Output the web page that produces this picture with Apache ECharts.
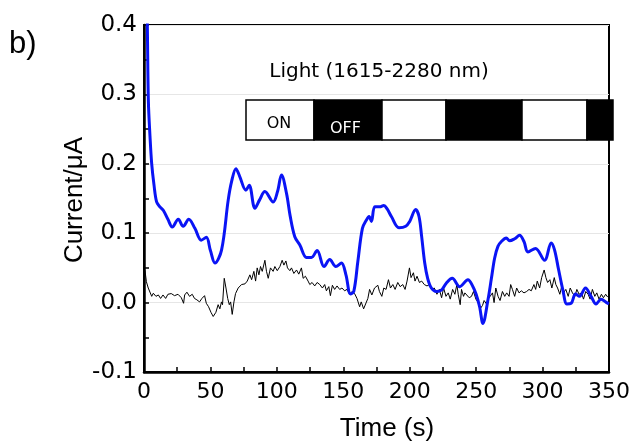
<!DOCTYPE html>
<html>
<head>
<meta charset="utf-8">
<script src="https://cdn.jsdelivr.net/npm/echarts@6/dist/echarts.min.js"></script>
<style>html,body{margin:0;padding:0;background:#fff}#c{width:636px;height:447px}</style>
</head>
<body>
<div id="c"></div>
<script>
// ---- data ----
const xTicks = [0, 50, 100, 150, 200, 250, 300, 350];
const yTicks = [-0.1, 0.0, 0.1, 0.2, 0.3, 0.4];

// Blue (illuminated) current trace
const blueT = [1.5, 2.5, 3.3, 4.5, 5.8, 7.5, 9.5, 12, 14.5, 18, 21.3, 25.8, 29.5, 33.7, 38.3, 43.1, 46.9, 50, 53.4, 58.4, 63.4, 66, 69.2, 72, 76.7, 79.2, 83.5, 87, 91, 97.2, 100.5, 103.5, 107.3, 110, 113.5, 117.3, 122.3, 126, 130.3, 135.5, 139.8, 144.4, 148.6, 152, 155.4, 157.9, 161, 164.4, 167.4, 169.4, 171.2, 173.7, 177.4, 180.5, 183, 186.2, 191.9, 197, 200, 204.5, 207, 209, 211.3, 213.5, 216.3, 220, 223.8, 227.5, 232, 237.6, 243.8, 247.6, 250, 252.6, 255.1, 258.9, 261.5, 263.9, 266.4, 269, 272.7, 275.2, 279, 282.7, 286, 289, 294.7, 301.5, 306.5, 309, 312, 315.3, 318.3, 321.5, 324.8, 327.8, 332.3, 336.5, 340.3, 344, 348.2, 350];
const blueV = [0.50, 0.40, 0.29, 0.24, 0.20, 0.17, 0.145, 0.138, 0.133, 0.12, 0.109, 0.12, 0.110, 0.12, 0.107, 0.09, 0.094, 0.075, 0.057, 0.076, 0.148, 0.175, 0.193, 0.182, 0.162, 0.169, 0.136, 0.148, 0.160, 0.145, 0.160, 0.184, 0.157, 0.125, 0.095, 0.083, 0.065, 0.065, 0.075, 0.052, 0.062, 0.052, 0.057, 0.040, 0.0125, 0.016, 0.060, 0.107, 0.119, 0.124, 0.117, 0.138, 0.138, 0.140, 0.135, 0.124, 0.108, 0.110, 0.117, 0.134, 0.124, 0.095, 0.057, 0.035, 0.021, 0.016, 0.018, 0.028, 0.035, 0.023, 0.033, 0.023, 0.012, -0.006, -0.030, 0.004, 0.035, 0.064, 0.081, 0.088, 0.093, 0.089, 0.092, 0.097, 0.088, 0.073, 0.078, 0.061, 0.086, 0.076, 0.048, 0.018, -0.002, -0.001, 0.0125, 0.009, 0.021, 0.009, -0.002, 0.005, 0.0, -0.002];

// Black (dark) current trace
const blackT = [0, 0.75, 1.8, 3.2, 5.8, 7, 9, 10.8, 12.5, 14.3, 16.3, 18, 20.5, 23, 25.6, 28.1, 29.8, 30.6, 32.3, 34.3, 36.3, 38, 39.8, 41.8, 43.6, 45.6, 46.9, 48.6, 50.4, 52.1, 54.1, 55.8, 57.1, 58.3, 59.1, 60.4, 61.7, 63, 64.2, 65.2, 66.4, 67.7, 68.9, 70.9, 73.4, 76, 77.7, 79.7, 81, 82.7, 84, 85.2, 86.5, 87.7, 89, 91, 92.2, 93.5, 95.2, 97.2, 98.5, 100.3, 102.3, 104, 105.3, 106.8, 108, 109.8, 111, 112.8, 114.8, 116.5, 118.5, 119.8, 121.5, 123.5, 124.8, 126.5, 128.5, 130.3, 132.3, 134.3, 136, 137.3, 139.1, 140.3, 141.8, 143.5, 145.3, 147.3, 149, 151, 152.8, 154.8, 156.5, 158.5, 160.3, 162.3, 163.5, 165.3, 166.8, 168.5, 169.8, 171.5, 173.5, 176, 177.2, 179, 180.5, 182.2, 184, 185.5, 187.3, 189, 191, 192.8, 194.8, 196.5, 198, 199.8, 201, 202.8, 204, 205.5, 207.3, 209, 211, 213, 214.8, 216.5, 218.5, 220.5, 222.3, 224, 225.5, 227.3, 229, 230.5, 232.3, 234, 235.5, 236.5, 238, 239, 240.5, 241.5, 243, 244.8, 246.5, 248, 249.8, 251.5, 253, 254.8, 256, 257.8, 259, 260.5, 262.3, 263.5, 264.8, 266.5, 268, 269.8, 271.5, 273, 274.8, 276, 277.3, 279, 280.5, 282.3, 284, 286, 288, 289.8, 291.5, 293.5, 294.8, 296, 297.8, 299.3, 301.2, 302.5, 303.8, 305.5, 307, 308.8, 310, 311.3, 313, 314.5, 315.8, 317.5, 319.3, 320.8, 322.5, 324.3, 325.8, 327.5, 329.3, 330.8, 332.5, 334.3, 335.8, 337.5, 339.3, 340.8, 342.5, 344.3, 345.8, 347.5, 349];
const blackV = [0.050, 0.046, 0.030, 0.021, 0.009, 0.0135, 0.009, 0.011, 0.006, 0.011, 0.006, 0.012, 0.013, 0.010, 0.012, 0.007, -0.001, 0.011, 0.015, 0.009, 0.012, 0.006, 0.004, 0.001, 0.006, 0.010, -0.001, -0.006, -0.014, -0.020, -0.014, -0.003, -0.009, 0.001, -0.003, 0.035, 0.021, 0.006, -0.003, 0.001, -0.017, 0.001, 0.013, 0.021, 0.026, 0.027, 0.031, 0.040, 0.033, 0.045, 0.031, 0.050, 0.040, 0.052, 0.045, 0.061, 0.045, 0.035, 0.050, 0.045, 0.052, 0.046, 0.052, 0.061, 0.054, 0.060, 0.050, 0.046, 0.050, 0.042, 0.047, 0.041, 0.050, 0.035, 0.038, 0.031, 0.026, 0.029, 0.024, 0.029, 0.026, 0.021, 0.026, 0.017, 0.023, 0.010, 0.025, 0.019, 0.024, 0.019, 0.021, 0.017, 0.019, 0.012, 0.016, 0.013, 0.006, -0.006, 0.001, -0.009, -0.011, 0.006, 0.019, 0.011, 0.021, 0.025, 0.016, 0.009, 0.021, 0.019, 0.033, 0.021, 0.026, 0.019, 0.029, 0.023, 0.026, 0.019, 0.031, 0.050, 0.036, 0.043, 0.031, 0.038, 0.029, 0.031, 0.026, 0.024, 0.026, 0.019, 0.021, 0.012, 0.019, 0.007, 0.021, 0.009, 0.014, 0.005, 0.019, 0.012, 0.026, 0.012, -0.003, 0.019, 0.009, 0.014, 0.016, 0.007, 0.009, 0.016, 0.005, 0.0, -0.009, -0.004, 0.003, -0.002, 0.005, 0.009, 0.014, 0.0, 0.021, 0.009, 0.003, 0.016, 0.009, 0.014, 0.009, 0.026, 0.019, 0.009, 0.021, 0.014, 0.017, 0.014, 0.016, 0.019, 0.017, 0.026, 0.019, 0.031, 0.021, 0.036, 0.047, 0.036, 0.029, 0.033, 0.021, 0.036, 0.026, 0.021, 0.012, 0.024, 0.014, 0.019, 0.009, 0.021, 0.014, 0.009, 0.019, 0.012, 0.014, 0.005, 0.016, 0.012, 0.005, 0.019, 0.009, 0.014, 0.005, 0.012, 0.007, 0.012, 0.008];

const xTitle = 'Time (s)';
const yTitle = 'Current/μA';
const insetTitle = 'Light (1615-2280 nm)';
const onLabel = 'ON';
const offLabel = 'OFF';
const panelLabel = 'b)';

// ---- chart ----
const zip = (t, v) => t.map((x, i) => [x, v[i]]);
const chart = echarts.init(document.getElementById('c'), null, {renderer: 'canvas'});
const FONT = 'Liberation Sans, Arial, sans-serif';
const WIDE = 'DejaVu Sans, sans-serif';

// inset bar segments (pixel layout of the schematic)
const segs = [[246, 314, '#fff'], [314, 382, '#000'], [382, 446, '#fff'], [446, 522, '#000'], [522, 587, '#fff'], [587, 613, '#000']];
const graphics = segs.map(s => ({
  type: 'rect', z: 10,
  shape: {x: s[0], y: 100, width: s[1] - s[0], height: 40},
  style: {fill: s[2], stroke: '#000', lineWidth: 1.5}
}));
graphics.push({type: 'text', z: 11, left: 9, top: 29, style: {text: panelLabel, font: '31px ' + FONT, fill: '#000'}});
graphics.push({type: 'text', z: 11, x: 379, y: 72, style: {text: insetTitle, font: '20px ' + WIDE, fill: '#000', align: 'center', verticalAlign: 'middle'}});
graphics.push({type: 'text', z: 11, x: 279, y: 124, style: {text: onLabel, font: '16px ' + WIDE, fill: '#000', align: 'center', verticalAlign: 'middle'}});
graphics.push({type: 'text', z: 11, x: 345.5, y: 129, style: {text: offLabel, font: '16px ' + WIDE, fill: '#fff', align: 'center', verticalAlign: 'middle'}});
graphics.push({type: 'text', z: 11, x: 387, y: 429, style: {text: xTitle, font: '26px ' + FONT, fill: '#000', align: 'center', verticalAlign: 'middle'}});
graphics.push({type: 'text', z: 11, x: 75, y: 200, rotation: Math.PI / 2, style: {text: yTitle, font: '26px ' + FONT, fill: '#000', align: 'center', verticalAlign: 'middle'}});

chart.setOption({
  animation: false,
  backgroundColor: '#fff',
  grid: {left: 144, top: 25, width: 465, height: 347, show: true, borderColor: '#000', borderWidth: 2, backgroundColor: 'transparent'},
  xAxis: {
    type: 'value', min: xTicks[0], max: xTicks[xTicks.length - 1], interval: 50,
    axisLine: {onZero: false, lineStyle: {color: '#000', width: 2.5}},
    axisTick: {inside: true, length: 5, lineStyle: {color: '#000', width: 1.5}},
    minorTick: {show: true, splitNumber: 2, length: 5, lineStyle: {color: '#000', width: 1.5}},
    axisLabel: {fontFamily: WIDE, fontSize: 22, color: '#000', margin: 9},
    splitLine: {show: false}
  },
  yAxis: {
    type: 'value', min: yTicks[0], max: yTicks[yTicks.length - 1], interval: 0.1,
    axisLine: {onZero: false, lineStyle: {color: '#000', width: 2.5}},
    axisTick: {inside: true, length: 5, lineStyle: {color: '#000', width: 1.5}},
    minorTick: {show: true, splitNumber: 2, length: 5, lineStyle: {color: '#000', width: 1.5}},
    axisLabel: {fontFamily: WIDE, fontSize: 23, color: '#000', margin: 7, formatter: v => v.toFixed(1)},
    splitLine: {show: true, lineStyle: {color: '#e6e6e6', width: 1}}
  },
  series: [
    {type: 'line', data: zip(blackT, blackV), showSymbol: false, symbol: 'none', clip: true,
     lineStyle: {color: '#000', width: 1}, z: 3},
    {type: 'line', data: zip(blueT, blueV), showSymbol: false, symbol: 'none', clip: true, smooth: 0.35,
     lineStyle: {color: '#0a14f5', width: 3}, z: 4}
  ],
  graphic: graphics
});
</script>
</body>
</html>
